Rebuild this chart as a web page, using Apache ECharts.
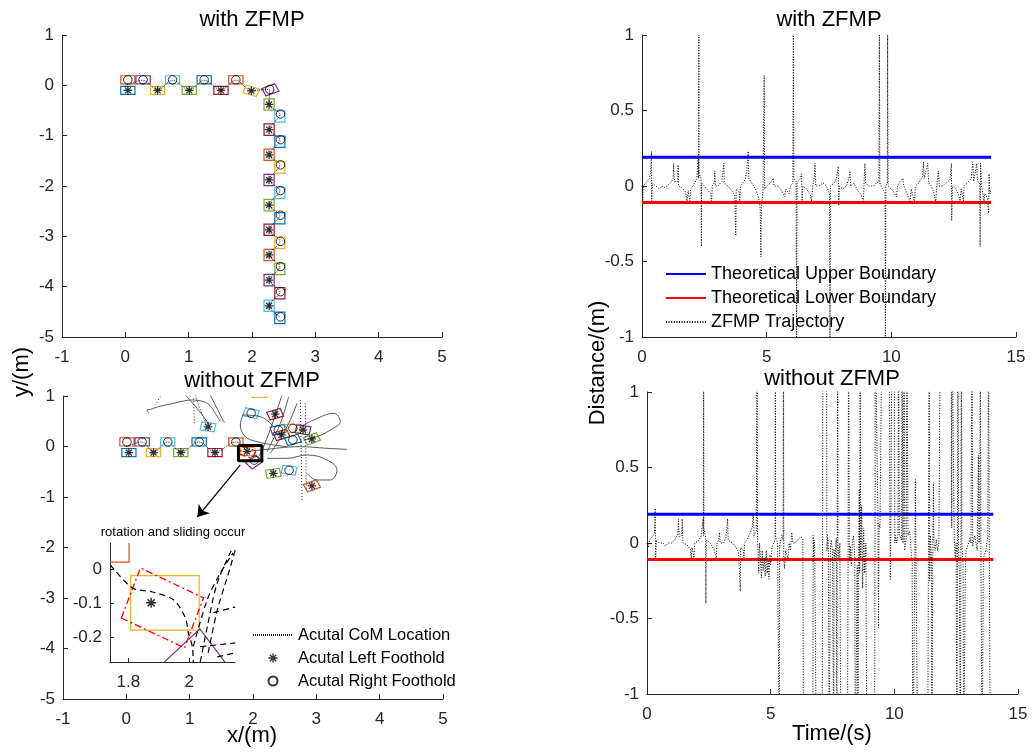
<!DOCTYPE html>
<html>
<head>
<meta charset="utf-8">
<script src="https://cdn.jsdelivr.net/npm/echarts@6/dist/echarts.min.js"></script>
<style>
  html, body { margin: 0; padding: 0; background: #fff; }
  #chart { width: 1033px; height: 753px; }
</style>
</head>
<body>
<div id="chart"></div>
<script>
// ---------------- Footstep plots (metres) ----------------
const FOOT_LEN = 0.225, FOOT_WID = 0.16;
const FOOT_COLORS = ['#0072BD', '#D95319', '#EDB120', '#7E2F8E', '#77AC30', '#4DBEEE', '#A2142F', '#FF0000'];

// with ZFMP: measured footholds
const zfLeftX  = [0.04, 0.51, 1.01, 1.51, 1.99, 2.27, 2.27, 2.27, 2.27, 2.27, 2.27, 2.27, 2.27, 2.27];
const zfLeftY  = [-0.10, -0.10, -0.10, -0.10, -0.11, -0.38, -0.88, -1.38, -1.88, -2.38, -2.87, -3.37, -3.87, -4.38];
const zfRightX = [0.04, 0.28, 0.745, 1.245, 1.745, 2.28, 2.45, 2.45, 2.45, 2.45, 2.45, 2.45, 2.45, 2.45, 2.45];
const zfRightY = [0.11, 0.11, 0.11, 0.11, 0.11, -0.08, -0.57, -1.08, -1.58, -2.09, -2.58, -3.10, -3.60, -4.10, -4.60];

// with ZFMP: foot outlines (centre, heading in degrees, colour index)
const zfFootX   = [0.04, 0.04, 0.28, 0.51, 0.745, 1.01, 1.245, 1.51, 1.745, 1.99, 2.29, 2.27, 2.44, 2.27, 2.44, 2.27, 2.44, 2.27, 2.44, 2.27, 2.44, 2.27, 2.44, 2.27, 2.44, 2.27, 2.44, 2.27, 2.44];
const zfFootY   = [0.11, -0.10, 0.11, -0.10, 0.11, -0.10, 0.11, -0.10, 0.11, -0.11, -0.09, -0.38, -0.62, -0.88, -1.12, -1.38, -1.63, -1.88, -2.14, -2.38, -2.64, -2.87, -3.13, -3.37, -3.65, -3.87, -4.13, -4.38, -4.62];
const zfFootAng = [0, 0, 0, 0, 0, 0, 0, 0, 0, -20, 25, 90, 90, 90, 90, 90, 90, 90, 90, 90, 90, 90, 90, 90, 90, 90, 90, 90, 90];
const zfFootCol = [1, 0, 3, 2, 5, 4, 0, 6, 1, 2, 3, 4, 5, 6, 0, 1, 2, 3, 5, 4, 0, 6, 2, 1, 4, 3, 6, 5, 0];

// with ZFMP: CoM path
const zfComX = [0.0, 0.28, 0.51, 0.745, 1.01, 1.245, 1.51, 1.745, 1.99, 2.28, 2.27, 2.44, 2.27, 2.44, 2.27, 2.44, 2.27, 2.44, 2.27, 2.44, 2.27, 2.44, 2.27, 2.44, 2.27, 2.44, 2.27, 2.44];
const zfComY = [0.0, 0.10, -0.09, 0.10, -0.09, 0.10, -0.09, 0.10, -0.10, -0.08, -0.38, -0.57, -0.88, -1.08, -1.38, -1.58, -1.88, -2.09, -2.38, -2.58, -2.87, -3.10, -3.37, -3.60, -3.87, -4.10, -4.38, -4.60];

// without ZFMP: measured footholds
const nzLeftX  = [0.04, 0.43, 0.86, 1.40, 1.905, 1.29, 2.35, 2.45, 2.79, 2.93, 2.32, 2.93];
const nzLeftY  = [-0.12, -0.12, -0.12, -0.12, -0.10, 0.39, 0.64, 0.23, 0.33, 0.15, -0.53, -0.78];
const nzRightX = [0.01, 0.25, 0.655, 1.15, 1.73, 1.97, 2.02, 2.40, 2.63, 2.63, 2.57];
const nzRightY = [0.09, 0.09, 0.09, 0.09, 0.09, 0.66, -0.27, 0.33, 0.36, 0.13, -0.47];

// without ZFMP: foot outlines (last column: 1 = dash-dot outline)
const nzFootX   = [0.01, 0.04, 0.25, 0.43, 0.655, 0.86, 1.15, 1.40, 1.73, 1.92, 1.912, 2.02, 1.97, 2.35, 1.29, 2.40, 2.45, 2.63, 2.79, 2.93, 2.63, 2.32, 2.57, 2.93, 2.10];
const nzFootY   = [0.09, -0.12, 0.09, -0.12, 0.09, -0.12, 0.09, -0.12, 0.09, -0.10, -0.115, -0.31, 0.66, 0.64, 0.39, 0.33, 0.23, 0.36, 0.33, 0.15, 0.13, -0.53, -0.47, -0.78, 1.05];
const nzFootAng = [0, 0, 0, 0, 0, 0, 0, 0, 0, 0, -23, 40, -15, 20, -10, 15, 20, 0, -10, 25, 20, 10, -10, 25, 0];
const nzFootCol = [1, 0, 3, 2, 5, 4, 0, 6, 1, 2, 7, 3, 5, 6, 5, 0, 6, 2, 3, 4, 0, 4, 5, 1, 2];
const nzFootDash = [0, 0, 0, 0, 0, 0, 0, 0, 0, 0, 1, 0, 0, 0, 0, 0, 0, 0, 0, 0, 0, 0, 0, 0, 0];

// without ZFMP: CoM path before the slip, then the drifting traces
const nzComX = [0.0, 0.25, 0.43, 0.655, 0.86, 1.15, 1.40, 1.73, 1.905];
const nzComY = [0.0, 0.09, -0.11, 0.09, -0.11, 0.09, -0.11, 0.09, -0.10];
const nzDriftSolid = [
  [[0.353, 0.67], [0.326, 0.723], [0.379, 0.736], [0.511, 0.789], [0.695, 0.842], [0.905, 0.901], [1.037, 0.921], [1.221, 0.888], [1.326, 0.802], [1.405, 0.657], [1.484, 0.492]],
  [[0.932, 1.02], [1.116, 0.756], [1.274, 0.492], [1.30, 0.426]],
  [[1.326, 1.02], [1.458, 0.69], [1.547, 0.472]],
  [[1.853, 0.657], [1.80, 0.426], [1.879, 0.195], [2.063, 0.096], [2.326, 0.030], [2.537, -0.003]],
  [[2.458, 1.02], [2.326, 0.525], [2.168, 0.0], [2.089, -0.2]],
  [[2.563, 0.987], [2.432, 0.459], [2.221, -0.102]],
  [[2.695, 0.855], [2.537, 0.393], [2.274, -0.135]],
  [[2.747, 0.393], [2.958, 0.525], [3.274, 0.657], [3.379, 0.492], [3.221, 0.327], [3.011, 0.195], [2.80, 0.129]],
  [[1.905, -0.10], [2.116, -0.069], [2.747, -0.003], [3.168, -0.036], [3.484, -0.056]],
  [[2.221, -0.234], [2.537, -0.234], [2.853, -0.168], [3.168, -0.267], [3.326, -0.465], [3.221, -0.663], [3.011, -0.663], [2.853, -0.531]],
  [[2.326, 0.393], [2.116, 0.591], [1.853, 0.624]]
];
const nzDriftDotted = [
  [[2.747, 0.921], [2.774, -1.06]],
  [[2.826, 0.855], [2.842, -0.861]],
  [[1.063, 0.954], [1.074, 0.459]],
  [[1.089, 1.02], [1.168, 0.723], [1.247, 0.492]],
  [[0.537, 0.987], [0.458, 0.822]]
];

// zoom box and callout arrow
const zoomBoxX = [1.77, 2.14];
const zoomBoxY = [-0.28, 0.02];
const arrowFrom = [1.80, -0.366];
const arrowTo = [1.121, -1.396];

// close-up: "rotation and sliding occur"
const insetXTicks = [1.8, 2];
const insetYTicks = [0, -0.1, -0.2];
const insetFootX = [1.69, 1.92, 1.912, 2.0];
const insetFootY = [0.10, -0.10, -0.115, -0.31];
const insetFootAng = [0, 0, -23, 40];
const insetFootCol = [1, 2, 7, 3];
const insetFootDash = [0, 0, 1, 0];
const insetLeftX = [1.875];
const insetLeftY = [-0.10];
const insetCom = [
  [[1.741, 0.012], [1.813, -0.056], [1.879, -0.068], [1.948, -0.091], [1.987, -0.144], [1.997, -0.188], [2.01, -0.229], [2.013, -0.274]],
  [[2.036, -0.274], [2.059, -0.171], [2.092, -0.041], [2.144, 0.065]],
  [[2.062, -0.247], [2.092, -0.121], [2.125, -0.024], [2.151, 0.056]],
  [[2.013, -0.229], [2.059, -0.091], [2.102, -0.012], [2.144, 0.047]],
  [[2.036, -0.229], [2.151, -0.218]],
  [[2.092, -0.259], [2.151, -0.247]],
  [[2.079, -0.129], [2.151, -0.112]]
];

// ---------------- Distance time series (s, m) ----------------
const upperBound = 0.19;
const lowerBound = -0.11;
const boundT = [0, 14];

const trajWith = [
  [0, 0], [0.03, -0.1], [0.05, 0.0], [0.15, 0.02], [0.3, 0.05], [0.35, 0.1], [0.38, 0.23], [0.39, -0.1], [0.42, 0.02],
  [0.55, 0.0], [0.7, -0.02], [0.8, 0.0], [0.9, -0.01], [1.0, 0.0], [1.15, 0.02], [1.25, 0.05], [1.27, 0.15], [1.3, 0.03],
  [1.43, 0.03], [1.45, 0.14], [1.47, 0.0], [1.6, -0.01], [1.75, -0.04], [1.81, -0.1], [1.85, -0.03], [1.92, -0.1],
  [1.95, -0.02], [2.05, 0.0], [2.2, 0.05], [2.25, 0.2], [2.27, 0.05], [2.28, 1.0], [2.29, 0.08], [2.37, 0.05],
  [2.38, -0.4], [2.39, 0.02], [2.5, 0.0], [2.65, -0.03], [2.75, -0.05], [2.79, -0.1], [2.82, 0.0], [2.9, 0.02],
  [2.92, 0.1], [2.94, 0.0], [3.05, 0.0], [3.2, 0.03], [3.28, 0.15], [3.3, 0.02], [3.45, 0.0], [3.6, -0.03],
  [3.72, -0.06], [3.76, -0.33], [3.78, -0.02], [3.9, -0.04], [3.92, -0.1], [3.95, 0.0], [4.05, 0.02], [4.15, 0.05],
  [4.2, 0.1], [4.26, 0.23], [4.28, 0.05], [4.4, 0.02], [4.55, -0.02], [4.65, -0.06], [4.7, -0.1], [4.74, -0.15],
  [4.77, -0.47], [4.79, -0.12], [4.85, -0.05], [4.9, 0.73], [4.92, -0.02], [5.0, 0.0], [5.15, 0.02], [5.26, 0.05],
  [5.3, 0.0], [5.45, 0.0], [5.6, -0.03], [5.73, -0.07], [5.76, -0.02], [5.9, -0.05], [5.95, 0.0], [6.05, 0.02],
  [6.07, 1.0], [6.09, 0.05], [6.18, 0.03], [6.2, -1.0], [6.22, 0.02], [6.35, 0.05], [6.4, 0.08], [6.42, -0.1],
  [6.45, 0.0], [6.6, -0.02], [6.75, -0.06], [6.8, -0.1], [6.85, 0.0], [6.9, 0.05], [6.94, 0.15], [6.97, 0.0],
  [7.1, 0.0], [7.25, 0.02], [7.4, 0.0], [7.52, -0.05], [7.54, -1.0], [7.56, 0.0], [7.7, 0.02], [7.8, 0.05],
  [7.87, 0.13], [7.89, -0.13], [7.92, 0.0], [8.05, -0.02], [8.2, 0.0], [8.3, 0.05], [8.34, 0.1], [8.37, 0.0],
  [8.5, 0.02], [8.65, -0.03], [8.8, -0.06], [8.88, -0.11], [8.9, 0.0], [8.94, 0.15], [8.97, 0.02], [9.1, 0.0],
  [9.3, 0.0], [9.4, 0.02], [9.5, 0.03], [9.52, 1.0], [9.54, 0.02], [9.65, -0.02], [9.75, -0.05], [9.76, -1.0],
  [9.78, 0.0], [9.84, 0.02], [9.85, 1.0], [9.87, 0.0], [10.0, -0.02], [10.1, -0.04], [10.2, -0.07], [10.25, 0.0],
  [10.35, 0.03], [10.46, 0.05], [10.5, 0.0], [10.6, -0.04], [10.7, -0.08], [10.75, -0.11], [10.8, -0.02],
  [10.93, -0.11], [10.96, 0.0], [11.1, 0.02], [11.25, 0.06], [11.29, 0.16], [11.32, 0.05], [11.46, 0.15],
  [11.5, 0.02], [11.6, 0.0], [11.7, -0.04], [11.78, -0.11], [11.82, 0.0], [11.89, 0.1], [11.92, 0.0], [12.05, 0.0],
  [12.2, 0.02], [12.35, 0.04], [12.41, 0.15], [12.42, -0.23], [12.45, 0.0], [12.6, -0.02], [12.7, -0.06],
  [12.76, -0.1], [12.8, -0.02], [12.89, -0.1], [12.92, 0.0], [13.05, 0.02], [13.2, 0.05], [13.27, 0.16],
  [13.3, 0.03], [13.43, 0.15], [13.45, 0.03], [13.55, 0.02], [13.56, -0.4], [13.58, 0.15], [13.62, 0.0],
  [13.72, -0.1], [13.75, -0.05], [13.85, -0.08], [13.9, -0.18], [13.92, 0.08], [13.95, -0.05], [14.0, -0.03]
];

const trajWithout = [
  [0, 0.0], [0.05, -0.03], [0.1, 0.02], [0.2, 0.04], [0.3, 0.06], [0.33, 0.23], [0.35, -0.1], [0.38, 0.02],
  [0.5, 0.0], [0.65, 0.0], [0.75, -0.02], [0.85, 0.0], [1.0, 0.0], [1.15, 0.03], [1.25, 0.06], [1.27, 0.16],
  [1.3, 0.04], [1.41, 0.05], [1.42, 0.16], [1.45, 0.0], [1.6, -0.01], [1.75, -0.04], [1.79, -0.1], [1.82, -0.03],
  [1.9, -0.1], [1.93, 0.0], [2.05, 0.01], [2.18, 0.04], [2.27, 0.16], [2.28, 0.05], [2.29, 1.5], [2.3, 0.1],
  [2.37, 0.04], [2.38, -0.4], [2.4, 0.02], [2.55, 0.0], [2.7, -0.04], [2.8, -0.1], [2.83, 0.0], [2.9, 0.02],
  [2.93, 0.07], [2.96, 0.0], [3.1, 0.0], [3.2, 0.04], [3.26, 0.16], [3.28, 0.02], [3.45, 0.0], [3.6, -0.03],
  [3.7, -0.06], [3.77, -0.32], [3.79, -0.03], [3.9, -0.05], [3.92, -0.1], [3.95, 0.0], [4.05, 0.02], [4.15, 0.06],
  [4.25, 0.1], [4.3, 0.2], [4.33, 0.05], [4.42, 0.08], [4.45, 1.5], [4.47, 0.02], [4.5, -0.1], [4.52, -0.2],
  [4.55, 0.0], [4.6, -0.15], [4.63, -0.23], [4.66, -0.05], [4.7, -0.18], [4.74, -0.1], [4.78, -0.22], [4.82, -0.05],
  [4.86, -0.2], [4.9, -0.12], [4.93, -0.24], [4.97, -0.08], [5.0, -0.15], [5.05, -0.03], [5.12, -0.02], [5.18, 0.02],
  [5.19, 1.5], [5.2, 0.04], [5.28, 0.0], [5.34, 0.0], [5.35, -1.5], [5.36, -0.02], [5.45, 0.05], [5.5, 0.02],
  [5.52, 1.5], [5.53, -0.1], [5.56, -0.17], [5.6, -0.05], [5.7, -0.1], [5.75, 0.0], [5.8, -0.05], [5.85, 0.07],
  [5.9, 0.0], [6.0, 0.0], [6.1, 0.02], [6.2, 0.04], [6.3, 0.03], [6.33, -1.5], [6.7, -1.5], [6.72, 0.05],
  [6.74, -0.12], [6.76, 0.02], [6.78, -0.05], [6.85, -1.5], [7.08, -1.5], [7.1, 0.1], [7.11, 1.5], [7.26, 1.5],
  [7.27, 0.08], [7.28, -0.05], [7.3, 0.05], [7.33, 0.0], [7.37, -1.5], [7.39, -1.5], [7.41, -0.05], [7.45, 0.02],
  [7.5, -0.06], [7.55, -1.5], [7.56, -0.04], [7.6, -0.12], [7.65, 0.03], [7.68, -1.5], [7.69, -0.02], [7.71, 1.5],
  [7.72, 0.0], [7.76, -0.1], [7.8, 0.0], [7.84, -1.5], [8.1, -1.5], [8.13, -0.1], [8.15, 1.5], [8.18, 0.0],
  [8.2, -0.12], [8.22, -0.02], [8.26, -0.15], [8.3, 0.0], [8.35, 0.05], [8.4, -0.1], [8.42, -1.5], [8.48, -1.5],
  [8.5, -0.15], [8.53, -1.5], [8.55, -0.35], [8.58, 0.35], [8.6, -0.2], [8.62, 1.5], [8.64, -0.1], [8.68, 0.25],
  [8.72, -0.3], [8.76, 0.1], [8.8, -0.2], [8.85, 0.0], [8.89, -1.5], [9.2, -1.5], [9.22, 0.1], [9.23, 1.5],
  [9.3, 1.5], [9.34, 0.12], [9.36, -0.56], [9.38, 0.12], [9.42, 0.1], [9.5, 1.5], [9.8, 1.5], [9.82, 0.13],
  [9.84, -0.24], [9.86, 0.1], [9.9, 1.5], [10.0, 1.5], [10.02, 0.0], [10.05, 0.05], [10.1, 0.0], [10.15, 0.06],
  [10.17, 1.5], [10.2, 0.05], [10.3, 0.02], [10.31, 1.5], [10.35, 0.0], [10.4, 1.5], [10.42, -0.05], [10.48, 0.03],
  [10.51, 1.5], [10.55, 0.05], [10.62, 0.08], [10.68, -0.05], [10.72, -0.12], [10.75, -1.5], [10.8, -1.5],
  [10.83, -0.1], [10.85, 0.42], [10.87, -0.05], [10.95, -1.5], [11.35, -1.5], [11.38, 0.0], [11.41, 1.5],
  [11.43, -0.25], [11.46, 0.05], [11.5, -0.1], [11.52, -1.5], [11.55, -0.2], [11.58, 0.4], [11.6, 0.0],
  [11.65, -0.05], [11.7, 0.02], [11.75, -0.05], [11.8, 0.0], [11.86, 1.5], [12.3, 1.5], [12.32, 0.1], [12.33, 1.5],
  [12.4, 1.5], [12.42, 0.05], [12.46, -0.1], [12.5, 0.0], [12.53, -1.5], [12.55, -0.15], [12.57, 1.5],
  [12.6, -0.05], [12.63, -0.2], [12.67, -1.5], [12.69, -0.1], [12.71, 1.5], [12.73, 0.0], [12.78, -0.15],
  [12.8, -1.5], [12.85, -1.5], [12.87, -0.2], [12.9, -0.05], [13.0, 0.0], [13.05, 0.03], [13.1, 0.0], [13.14, 1.5],
  [13.17, -0.02], [13.25, 0.05], [13.35, -0.05], [13.4, 0.58], [13.42, 0.0], [13.45, 0.02], [13.48, 1.5],
  [13.5, -0.08], [13.55, -1.5], [13.6, -0.1], [13.7, -0.05], [13.78, 0.05], [13.81, 1.5], [13.84, -0.1],
  [13.88, -1.5], [13.95, -1.5]
];

// ---------------- helpers ----------------
const FONT = 'Liberation Sans, Arial, Helvetica, sans-serif';
const INK = '#262626';
const ASTERISK = 'path://M-0.15,-1L0.15,-1L0.15,1L-0.15,1ZM-1,-0.15L1,-0.15L1,0.15L-1,0.15Z' +
  'M-0.601,-0.813L0.813,0.601L0.601,0.813L-0.813,-0.601ZM0.601,-0.813L0.813,-0.601L-0.601,0.813L-0.813,0.601Z';
const NO_SYMBOL = { color: 'rgba(0,0,0,0)', opacity: 0, borderWidth: 0 };

const zip = (xs, ys) => xs.map((x, i) => [x, ys[i]]);
const footData = (xs, ys, angs, cols, dash) =>
  xs.map((x, i) => [x, ys[i], angs[i], cols[i], dash ? dash[i] : 0]);

function footRender(params, api) {
  const cx = api.value(0), cy = api.value(1);
  const a = api.value(2) * Math.PI / 180;
  const col = FOOT_COLORS[api.value(3)];
  const dashed = api.value(4) === 1;
  const hl = FOOT_LEN / 2, hw = FOOT_WID / 2;
  const c = Math.cos(a), s = Math.sin(a);
  const pts = [[-hl, -hw], [hl, -hw], [hl, hw], [-hl, hw]].map(([u, v]) =>
    api.coord([cx + u * c - v * s, cy + u * s + v * c]));
  return {
    type: 'polygon',
    shape: { points: pts },
    style: { fill: 'none', stroke: col, lineWidth: dashed ? 1.3 : 1.2, lineDash: dashed ? [7, 3, 2, 3] : null }
  };
}

function feetSeries(idx, data) {
  return {
    type: 'custom', xAxisIndex: idx, yAxisIndex: idx, clip: true, silent: true,
    dimensions: ['x', 'y', 'ang', 'col', 'dash'], encode: { x: 0, y: 1 },
    renderItem: footRender, data: data, z: 2
  };
}

function valAxis(idx, min, max, interval, isY, extra) {
  return Object.assign({
    type: 'value', gridIndex: idx, min: min, max: max, interval: interval,
    axisLine: { show: true, onZero: false, lineStyle: { color: INK, width: 1 } },
    axisTick: { show: true, inside: true, length: 5, lineStyle: { color: INK, width: 1 } },
    axisLabel: { color: INK, fontSize: 17, fontFamily: FONT, margin: isY ? 8 : 12 },
    splitLine: { show: false }
  }, extra || {});
}

const comStyle = { color: '#222', width: 1, type: [1, 1] };

function comSeries(idx, name, data, style, smooth) {
  return {
    type: 'line', name: name, xAxisIndex: idx, yAxisIndex: idx, data: data,
    symbol: 'none', showSymbol: false, smooth: smooth || false, silent: true,
    itemStyle: NO_SYMBOL, lineStyle: style, z: 3
  };
}

function footholdSeries(idx, name, xs, ys, isLeft, size) {
  return {
    type: 'scatter', name: name, xAxisIndex: idx, yAxisIndex: idx, data: zip(xs, ys),
    symbol: isLeft ? ASTERISK : 'circle', symbolSize: size || 8.5, silent: true, z: 4,
    itemStyle: isLeft ? { color: '#000' } : { color: 'rgba(0,0,0,0)', borderColor: '#000', borderWidth: 1 }
  };
}

// ---------------- series ----------------
const series = [];

// top-left: with ZFMP
series.push(feetSeries(0, footData(zfFootX, zfFootY, zfFootAng, zfFootCol)));
series.push(comSeries(0, 'Acutal CoM Location', zip(zfComX, zfComY), comStyle, 0.35));
series.push(footholdSeries(0, 'Acutal Left Foothold', zfLeftX, zfLeftY, true));
series.push(footholdSeries(0, 'Acutal Right Foothold', zfRightX, zfRightY, false));

// bottom-left: without ZFMP
series.push(feetSeries(1, footData(nzFootX, nzFootY, nzFootAng, nzFootCol, nzFootDash)));
series.push(comSeries(1, 'Acutal CoM Location', zip(nzComX, nzComY), comStyle, 0.35));
nzDriftSolid.forEach(p => series.push(comSeries(1, 'drift', p, { color: '#444', width: 0.9 }, 0.4)));
nzDriftDotted.forEach(p => series.push(comSeries(1, 'drift', p, { color: '#222', width: 1, type: [1, 2] }, 0.3)));
series.push(footholdSeries(1, 'Acutal Left Foothold', nzLeftX, nzLeftY, true));
series.push(footholdSeries(1, 'Acutal Right Foothold', nzRightX, nzRightY, false));
series.push(comSeries(1, 'zoom box', [
  [zoomBoxX[0], zoomBoxY[1]], [zoomBoxX[1], zoomBoxY[1]], [zoomBoxX[1], zoomBoxY[0]],
  [zoomBoxX[0], zoomBoxY[0]], [zoomBoxX[0], zoomBoxY[1]]
], { color: '#000', width: 3 }));
series.push({
  type: 'lines', coordinateSystem: 'cartesian2d', xAxisIndex: 1, yAxisIndex: 1, silent: true,
  symbol: ['none', 'arrow'], symbolSize: 11, z: 6,
  lineStyle: { color: '#000', width: 1.2, opacity: 1 },
  data: [{ coords: [arrowFrom, arrowTo] }]
});

// close-up
series.push(feetSeries(4, footData(insetFootX, insetFootY, insetFootAng, insetFootCol, insetFootDash)));
insetCom.forEach(p => series.push(comSeries(4, 'close-up CoM', p, { color: '#000', width: 1.2, type: [6, 4] }, 0.3)));
series.push(footholdSeries(4, 'close-up foothold', insetLeftX, insetLeftY, true, 10));

// right column: distance traces
function boundSeries(idx, name, value, color) {
  return {
    type: 'line', name: name, xAxisIndex: idx, yAxisIndex: idx, silent: true,
    data: boundT.map(t => [t, value]), symbol: 'none', showSymbol: false,
    itemStyle: NO_SYMBOL, lineStyle: { color: color, width: 3 }, z: 3
  };
}
function trajSeries(idx, data) {
  return {
    type: 'line', name: 'ZFMP Trajectory', xAxisIndex: idx, yAxisIndex: idx, silent: true,
    data: data, symbol: 'none', showSymbol: false, clip: true,
    itemStyle: NO_SYMBOL, lineStyle: { color: '#000', width: 1, type: [1, 1.6] }, z: 4
  };
}
series.push(boundSeries(2, 'Theoretical Upper Boundary', upperBound, '#0000FF'));
series.push(boundSeries(2, 'Theoretical Lower Boundary', lowerBound, '#FF0000'));
series.push(trajSeries(2, trajWith));
series.push(boundSeries(3, 'Theoretical Upper Boundary', upperBound, '#0000FF'));
series.push(boundSeries(3, 'Theoretical Lower Boundary', lowerBound, '#FF0000'));
series.push(trajSeries(3, trajWithout));

// ---------------- text ----------------
function label(text, x, y, size, rot) {
  return {
    type: 'text', x: x, y: y, rotation: rot || 0, silent: true, z: 10,
    style: { text: text, fill: '#000', font: size + 'px ' + FONT, align: 'center', verticalAlign: 'middle' }
  };
}

const option = {
  animation: false,
  backgroundColor: '#fff',
  textStyle: { fontFamily: FONT },
  grid: [
    { left: 62, top: 35, width: 380, height: 302 },
    { left: 63, top: 396, width: 380, height: 303 },
    { left: 642, top: 35, width: 374, height: 302 },
    { left: 647, top: 392, width: 371, height: 302 },
    { left: 110, top: 543, width: 125, height: 119 }
  ],
  xAxis: [
    valAxis(0, -1, 5, 1, false),
    valAxis(1, -1, 5, 1, false),
    valAxis(2, 0, 15, 5, false),
    valAxis(3, 0, 15, 5, false),
    valAxis(4, 1.74, 2.15, null, false, {
      axisTick: { show: true, inside: true, length: 4, customValues: insetXTicks, lineStyle: { color: INK } },
      axisLabel: { color: INK, fontSize: 17, fontFamily: FONT, margin: 12, customValues: insetXTicks, formatter: v => String(v) }
    })
  ],
  yAxis: [
    valAxis(0, -5, 1, 1, true),
    valAxis(1, -5, 1, 1, true),
    valAxis(2, -1, 1, 0.5, true),
    valAxis(3, -1, 1, 0.5, true),
    valAxis(4, -0.274, 0.076, null, true, {
      axisTick: { show: true, inside: true, length: 4, customValues: insetYTicks, lineStyle: { color: INK } },
      axisLabel: { color: INK, fontSize: 17, fontFamily: FONT, margin: 8, customValues: insetYTicks, formatter: v => String(v) }
    })
  ],
  legend: [
    {
      data: ['Theoretical Upper Boundary', 'Theoretical Lower Boundary', 'ZFMP Trajectory'],
      orient: 'vertical', left: 660, top: 259, itemWidth: 40, itemHeight: 14, itemGap: 4,
      selectedMode: false, textStyle: { fontSize: 18, lineHeight: 20, color: '#000', fontFamily: FONT }
    },
    {
      data: ['Acutal CoM Location', 'Acutal Left Foothold', 'Acutal Right Foothold'],
      orient: 'vertical', left: 247, top: 621, itemWidth: 40, itemHeight: 9, itemGap: 5,
      selectedMode: false, textStyle: { fontSize: 16.5, lineHeight: 18, color: '#000', fontFamily: FONT }
    }
  ],
  graphic: [
    label('with ZFMP', 252, 20, 22),
    label('without ZFMP', 252, 381, 22),
    label('with ZFMP', 829, 20, 22),
    label('without ZFMP', 832, 379, 22),
    label('x/(m)', 252, 736, 22),
    label('Time/(s)', 832, 734, 22),
    label('y/(m)', 22, 372, 22, Math.PI / 2),
    label('Distance/(m)', 598, 363, 22, Math.PI / 2),
    label('rotation and sliding occur', 173, 532, 13)
  ],
  series: series
};

const chart = echarts.init(document.getElementById('chart'), null, { renderer: 'canvas' });
chart.setOption(option);
</script>
</body>
</html>
